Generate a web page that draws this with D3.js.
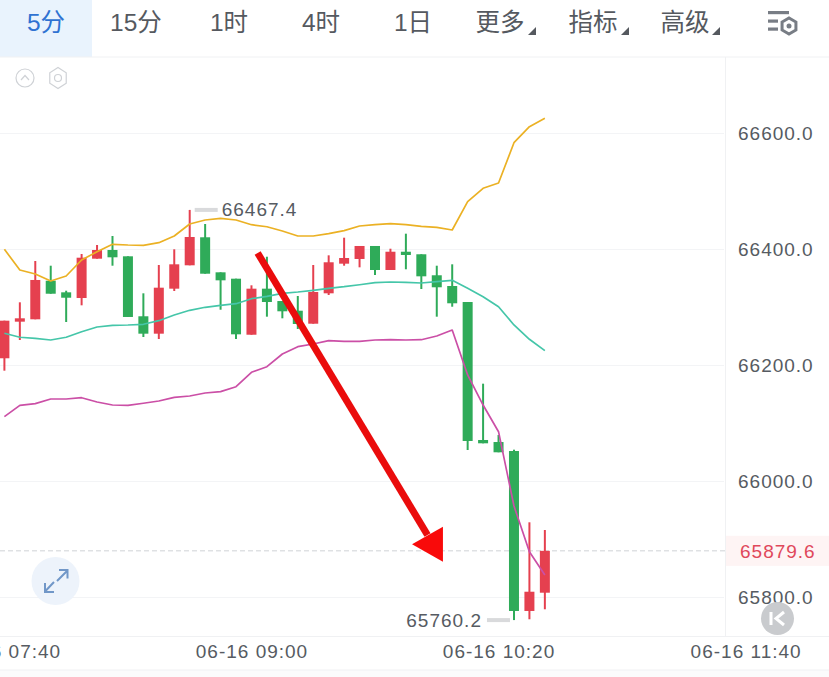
<!DOCTYPE html>
<html><head><meta charset="utf-8">
<script src="https://cdn.jsdelivr.net/npm/d3@7/dist/d3.min.js"></script>
<style>html,body{margin:0;padding:0;background:#fff;overflow:hidden}svg{display:block}
text{font-family:"Liberation Sans","Noto Sans CJK SC",sans-serif}</style></head>
<body><svg id="c" width="829" height="677"></svg>
<script>
const tabs=["5分","15分","1时","4时","1日","更多","指标","高级"];
const tabCenters=[46,136,229,321,413,500,593,685];
const times=["07:40","07:45","07:50","07:55","08:00","08:05","08:10","08:15","08:20","08:25","08:30","08:35","08:40","08:45","08:50","08:55","09:00","09:05","09:10","09:15","09:20","09:25","09:30","09:35","09:40","09:45","09:50","09:55","10:00","10:05","10:10","10:15","10:20","10:25","10:30","10:35"];
const opens=[66211.6,66274.7,66278.8,66345.3,66325.3,66315.5,66383.3,66398.3,66387.4,66284,66254,66331.6,66371.9,66420.2,66359.8,66348.8,66252.2,66331.6,66310.3,66293.6,66271.2,66323.6,66374.7,66382.8,66405.2,66363.8,66395.3,66390.9,66354.7,66336.2,66308.6,66070.7,66067.2,66051.7,65775.9,65807.4];
const closes=[66276.4,66280.5,66346.6,66322.9,66316,66385,66398.3,66385.7,66282.8,66254,66333.3,66373.6,66420.7,66357.4,66346,66252.9,66331.6,66308.6,66292.6,66270.7,66325.9,66377.1,66384.5,66405.2,66363.8,66395.3,66389.7,66352.9,66334,66306.4,66069,66065,66049.5,65775.9,65809.1,65879.6];
const highs=[66276.4,66308.1,66379.3,66371.2,66328.1,66391.4,66406.9,66422.4,66387.4,66323.6,66372.4,66399.5,66467.4,66443.1,66359.8,66348.8,66337.4,66386.7,66310.3,66319,66372.4,66389.1,66419.5,66405.2,66405.2,66400.5,66426.4,66390.9,66371.2,66373.6,66308.6,66167.8,66079.3,66054,65928.8,65915.5];
const lows=[66190.2,66243.1,66278.8,66322.9,66274.1,66302.9,66383.3,66371.2,66282.8,66248.3,66244.8,66327.6,66371.9,66357.4,66295.3,66244.8,66252.2,66283.3,66280.5,66262.1,66271.2,66320.7,66371.2,66368.4,66355.2,66363.8,66365,66331,66283.3,66300.5,66053.4,66065,66049.5,65760.2,65761.6,65778.8];
const upper=[66399.5,66363.8,66356.9,66344.8,66353.4,66381,66395.3,66408.1,66406.9,66406.4,66410.9,66422.4,66443.1,66450,66452.9,66450,66441.9,66438.4,66431,66422.4,66422.4,66426.4,66431.6,66439.7,66441.9,66443.6,66441.9,66439.1,66437.4,66432.8,66481.6,66504.7,66513.8,66583.3,66610.9,66625.3];
const middle=[66254.7,66247.8,66246,66243.1,66247.8,66257.4,66265.5,66268.4,66269,66270.2,66276.4,66286.2,66294.3,66299.5,66302.9,66305.7,66314.3,66318.4,66323.6,66325.9,66328.8,66332.2,66335,66338.4,66341.9,66343.1,66342.6,66341.4,66343.6,66346,66332.2,66317.8,66300.5,66269,66244.3,66224.7];
const lower=[66110.9,66130.5,66133.3,66141.4,66141.4,66143.6,66136.2,66131,66130.5,66134,66137.9,66144.3,66146.6,66151.7,66154,66162.6,66187.4,66197.1,66219,66231.6,66236.2,66241.9,66240.9,66240.9,66243.1,66243.6,66243.1,66243.6,66250,66260.3,66182.8,66131,66085,65956.9,65878.1,65837.9];
const priceTicks=[66600,66400,66200,66000,65800];
const timeTicks=["07:40","09:00","10:20","11:40"];
const lastPrice=65879.6, maxPrice=66467.4, minPrice=65760.2;

const parseT=d3.timeParse("%H:%M");
const x=d3.scaleTime().domain([parseT("07:40"),parseT("11:40")]).range([4.4,745.6]);
const y=d3.scaleLinear().domain([65800,66600]).range([597,133]);
const svg=d3.select("#c");
const txt="#565b62", UP="#e5404f", DOWN="#2fab59";
const X=t=>x(parseT(t));
const numStyle=s=>s.attr("font-size",19).attr("letter-spacing",1);

// chrome
svg.append("rect").attr("width",829).attr("height",677).attr("fill","#fff");
svg.append("rect").attr("x",0).attr("y",0).attr("width",92).attr("height",57).attr("fill","#e9f3fd");
svg.append("rect").attr("x",0).attr("y",670).attr("width",829).attr("height",7).attr("fill","#fbfbfc");
[[0,57,829,57],[0,636.5,829,636.5],[0,670,829,670],[725.5,57,725.5,636.5]].forEach(l=>
 svg.append("line").attr("x1",l[0]).attr("y1",l[1]).attr("x2",l[2]).attr("y2",l[3]).attr("stroke","#f0f1f3").attr("stroke-width",1));

// toolbar
svg.append("g").selectAll("text").data(tabs).join("text")
 .attr("x",(d,i)=>tabCenters[i]).attr("y",31).attr("text-anchor","middle")
 .attr("font-size",24.5).attr("fill",(d,i)=>i==0?"#2f72d2":"#55595f").text(d=>d);
[532,625,716].forEach(c=>svg.append("path").attr("d",`M${c-4} 35L${c+4} 35L${c+4} 27Z`).attr("fill","#55595f"));
const ic=svg.append("g").attr("fill","#787d85");
[[768,11,21],[768,19.5,10],[768,27.5,10]].forEach(b=>ic.append("rect").attr("x",b[0]).attr("y",b[1]).attr("width",b[2]).attr("height",3.2));
const hex=(cx,cy,r)=>d3.range(6).map(i=>{const a=Math.PI/3*i+Math.PI/6;return [cx+r*Math.cos(a),cy+r*Math.sin(a)].join(",")}).join(" ");
ic.append("polygon").attr("points",hex(789,26,8)).attr("fill","none").attr("stroke","#787d85").attr("stroke-width",3);
ic.append("circle").attr("cx",789).attr("cy",26).attr("r",2.5);

// small indicator icons
svg.append("circle").attr("cx",25).attr("cy",78).attr("r",9).attr("fill","none").attr("stroke","#cfd2d6").attr("stroke-width",1.2);
svg.append("path").attr("d","M21 80L25 75.5L29 80").attr("fill","none").attr("stroke","#cfd2d6").attr("stroke-width",1.2);
svg.append("polygon").attr("points",d3.range(6).map(i=>{const a=Math.PI/3*i+Math.PI/6;return [58+9.5*Math.cos(a),78+10.5*Math.sin(a)].join(",")}).join(" ")).attr("fill","none").attr("stroke","#cfd2d6").attr("stroke-width",1.2);
svg.append("circle").attr("cx",58).attr("cy",78).attr("r",3.5).attr("fill","none").attr("stroke","#cfd2d6").attr("stroke-width",1.2);

// y axis with grid
const yAxis=d3.axisRight(y).tickValues(priceTicks).tickFormat(d3.format(".1f")).tickSize(724).tickPadding(14);
const yg=svg.append("g").call(yAxis);
yg.select(".domain").remove();
yg.selectAll("line").attr("stroke","#f3f4f6");
numStyle(yg.selectAll("text")).attr("fill",txt);

// x axis
const xAxis=d3.axisBottom(x).tickValues(timeTicks.map(parseT)).tickFormat(d=>"06-16 "+d3.timeFormat("%H:%M")(d)).tickSize(0).tickPadding(0);
const xg=svg.append("g").attr("transform","translate(0,644)").call(xAxis);
xg.select(".domain").remove();
numStyle(xg.selectAll("text")).attr("fill",txt);

// last price
svg.append("line").attr("x1",0).attr("x2",725).attr("y1",y(lastPrice)).attr("y2",y(lastPrice)).attr("stroke","#cfd2d6").attr("stroke-dasharray","5 3");
svg.append("rect").attr("x",726).attr("y",y(lastPrice)-15).attr("width",103).attr("height",30).attr("fill","#fef4f4");
numStyle(svg.append("text").attr("x",740).attr("y",y(lastPrice)+7)).attr("fill","#e0485b").text(d3.format(".1f")(lastPrice));

// candles
const data=times.map((t,i)=>({t,o:opens[i],c:closes[i],h:highs[i],l:lows[i]}));
const cg=svg.append("g").selectAll("g").data(data).join("g").attr("fill",d=>d.c>=d.o?UP:DOWN).attr("stroke",d=>d.c>=d.o?UP:DOWN);
cg.append("line").attr("x1",d=>X(d.t)).attr("x2",d=>X(d.t)).attr("y1",d=>y(d.h)).attr("y2",d=>y(d.l)).attr("stroke-width",2);
cg.append("rect").attr("x",d=>X(d.t)-5).attr("width",10).attr("y",d=>y(Math.max(d.o,d.c))).attr("height",d=>Math.max(1,y(Math.min(d.o,d.c))-y(Math.max(d.o,d.c)))).attr("stroke","none");

// bands
const line=d3.line().x((d,i)=>X(times[i])).y(d=>y(d));
[[upper,"#ebb124"],[middle,"#45c6a9"],[lower,"#cb4fa6"]].forEach(s=>
 svg.append("path").attr("d",line(s[0])).attr("fill","none").attr("stroke",s[1]).attr("stroke-width",1.7).attr("stroke-linejoin","round"));

// max / min markers
const hi=highs.indexOf(maxPrice), lo=lows.indexOf(minPrice);
svg.append("rect").attr("x",X(times[hi])+5).attr("y",y(maxPrice)-2).attr("width",23).attr("height",4).attr("fill","#d9dadc");
numStyle(svg.append("text").attr("x",X(times[hi])+32).attr("y",y(maxPrice)+6.5)).attr("fill",txt).text(d3.format(".1f")(maxPrice));
svg.append("rect").attr("x",X(times[lo])-27).attr("y",y(minPrice)-2).attr("width",23).attr("height",4).attr("fill","#d9dadc");
numStyle(svg.append("text").attr("x",X(times[lo])-32).attr("y",y(minPrice)+6.5).attr("text-anchor","end")).attr("fill",txt).text(d3.format(".1f")(minPrice));

// expand button
svg.append("circle").attr("cx",55.5).attr("cy",581).attr("r",24).attr("fill","#edf3fb");
svg.append("path").attr("d","M57 581L67 571M59 570H67.5V578.5M54 582L45 591.5M45 583V592H54").attr("fill","none").attr("stroke","#7197c8").attr("stroke-width",2);

// back-to-latest button
svg.append("circle").attr("cx",777.5).attr("cy",618.5).attr("r",16.5).attr("fill","#c9cbce");
svg.append("path").attr("d","M771 612V625M784 612L776 618.5L784 625").attr("fill","none").attr("stroke","#fff").attr("stroke-width",3);

// red annotation arrow, anchored in chart coordinates
const arrowStart=["09:02",66393], arrowEnd=["09:57",65907];
const arrowHead=[["09:52",65890.9],["10:02",65921.2],["10:02",65860.9]];
svg.append("line").attr("x1",X(arrowStart[0])).attr("y1",y(arrowStart[1])).attr("x2",X(arrowEnd[0])).attr("y2",y(arrowEnd[1])).attr("stroke","#ea0c0c").attr("stroke-width",7);
svg.append("polygon").attr("points",arrowHead.map(p=>[X(p[0]),y(p[1])].join(",")).join(" ")).attr("fill","#f90a0a");
</script></body></html>
